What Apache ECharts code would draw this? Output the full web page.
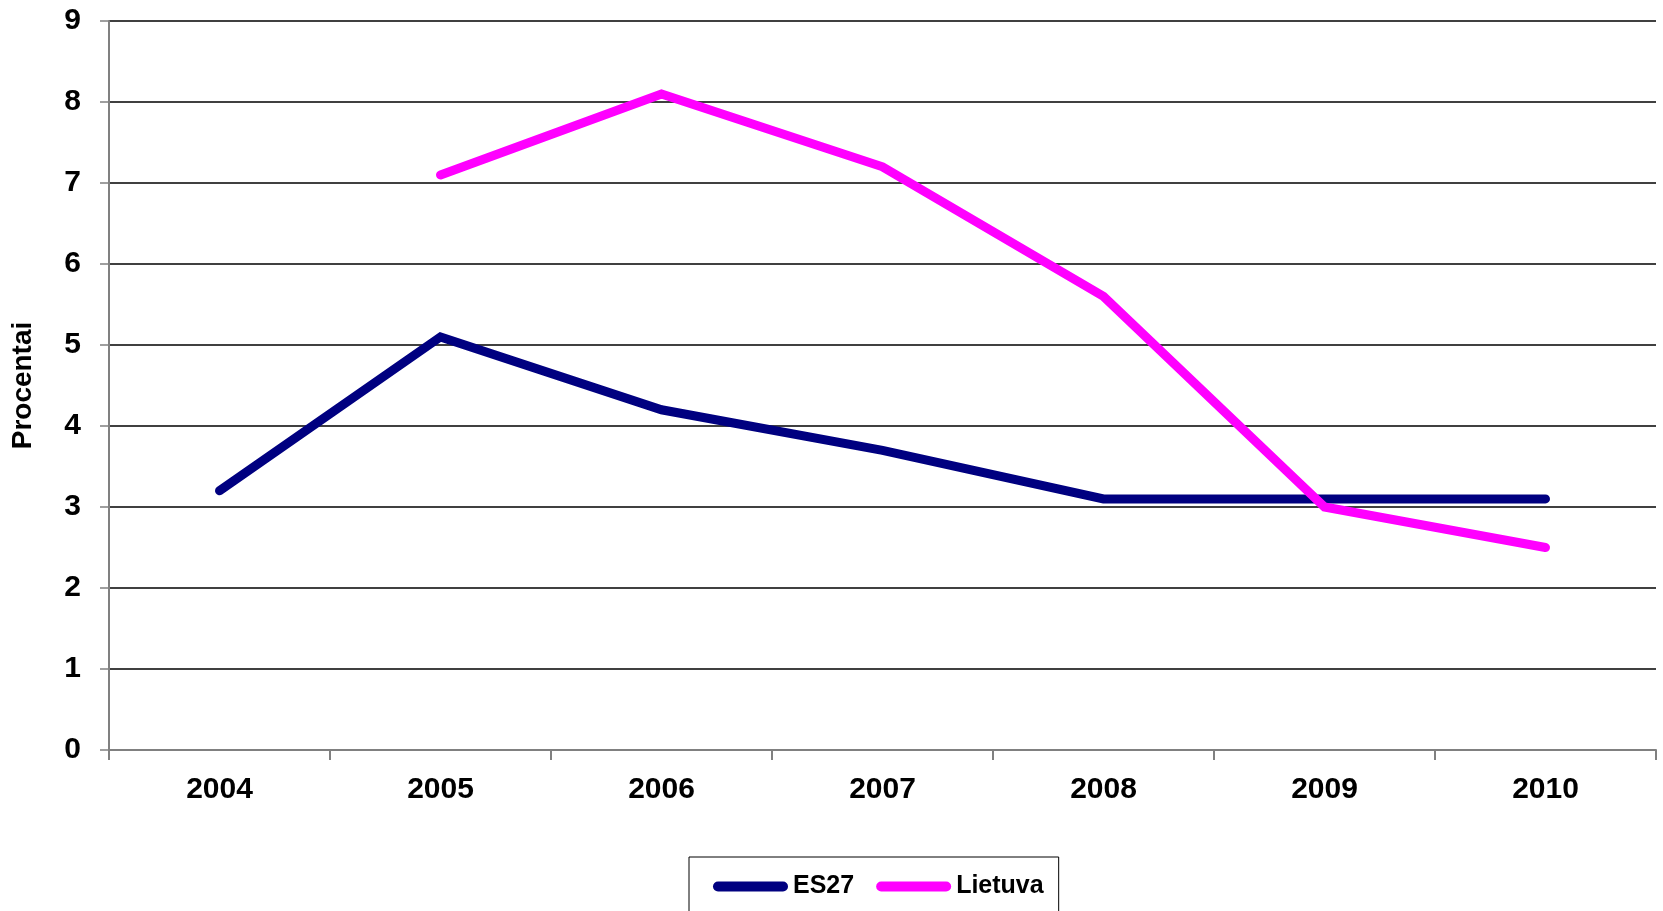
<!DOCTYPE html>
<html>
<head>
<meta charset="utf-8">
<script src="https://cdn.jsdelivr.net/npm/echarts@6/dist/echarts.min.js"></script>
<style>
html,body{margin:0;padding:0;background:#fff;}
#chart{width:1663px;height:911px;}
</style>
</head>
<body>
<div id="chart"></div>
<script>
const years = ['2004','2005','2006','2007','2008','2009','2010'];
const es27 = [3.2, 5.1, 4.2, 3.7, 3.1, 3.1, 3.1];
const lietuva = [null, 7.1, 8.1, 7.2, 5.6, 3.0, 2.5];
const yTitle = 'Procentai';
const seriesNames = ['ES27', 'Lietuva'];

const chart = echarts.init(document.getElementById('chart'), null, {renderer:'canvas'});
const FONT = 'Liberation Sans, Arial, sans-serif';
const pill = 'path://M5,0 H70 A5,5 0 0 1 70,10 H5 A5,5 0 0 1 5,0 Z';
chart.setOption({
  animation: false,
  backgroundColor: '#fff',
  grid: {left: 109, right: 7, top: 21, bottom: 161, containLabel: false, outerBoundsMode: 'none'},
  legend: {
    left: 689, top: 857,
    padding: [17, 15, 17, 24],
    itemGap: 22,
    itemWidth: 75, itemHeight: 10,
    borderColor: '#000', borderWidth: 1,
    backgroundColor: '#fff',
    textStyle: {fontFamily: FONT, fontWeight: 'bold', fontSize: 25, color: '#000'},
    data: [
      {name: seriesNames[0], icon: pill, itemStyle: {color: '#000080'}},
      {name: seriesNames[1], icon: pill, itemStyle: {color: '#FF00FF'}}
    ]
  },
  xAxis: {
    type: 'category',
    data: years,
    boundaryGap: true,
    axisLine: {lineStyle: {color: '#808080', width: 2}},
    axisTick: {show: true, length: 10, lineStyle: {color: '#808080', width: 2}},
    axisLabel: {fontFamily: FONT, fontWeight: 'bold', fontSize: 30, color: '#000', margin: 25},
    splitLine: {show: false}
  },
  yAxis: {
    type: 'value',
    min: 0, max: 9, interval: 1,
    name: yTitle,
    nameLocation: 'middle',
    nameGap: 72,
    nameRotate: 90,
    nameTextStyle: {fontFamily: FONT, fontWeight: 'bold', fontSize: 28, color: '#000'},
    axisLine: {show: true, lineStyle: {color: '#808080', width: 2}},
    axisTick: {show: true, length: 9, lineStyle: {color: '#808080', width: 1.5}},
    axisLabel: {fontFamily: FONT, fontWeight: 'bold', fontSize: 30, color: '#000', margin: 28},
    splitLine: {show: true, lineStyle: {color: '#000', width: 1.5}}
  },
  series: [
    {
      name: seriesNames[0], type: 'line', data: es27,
      showSymbol: false, symbol: 'none',
      lineStyle: {color: '#000080', width: 9, cap: 'round', join: 'miter'},
      itemStyle: {color: '#000080'}
    },
    {
      name: seriesNames[1], type: 'line', data: lietuva,
      showSymbol: false, symbol: 'none',
      lineStyle: {color: '#FF00FF', width: 9, cap: 'round', join: 'miter'},
      itemStyle: {color: '#FF00FF'}
    }
  ]
});
</script>
</body>
</html>
